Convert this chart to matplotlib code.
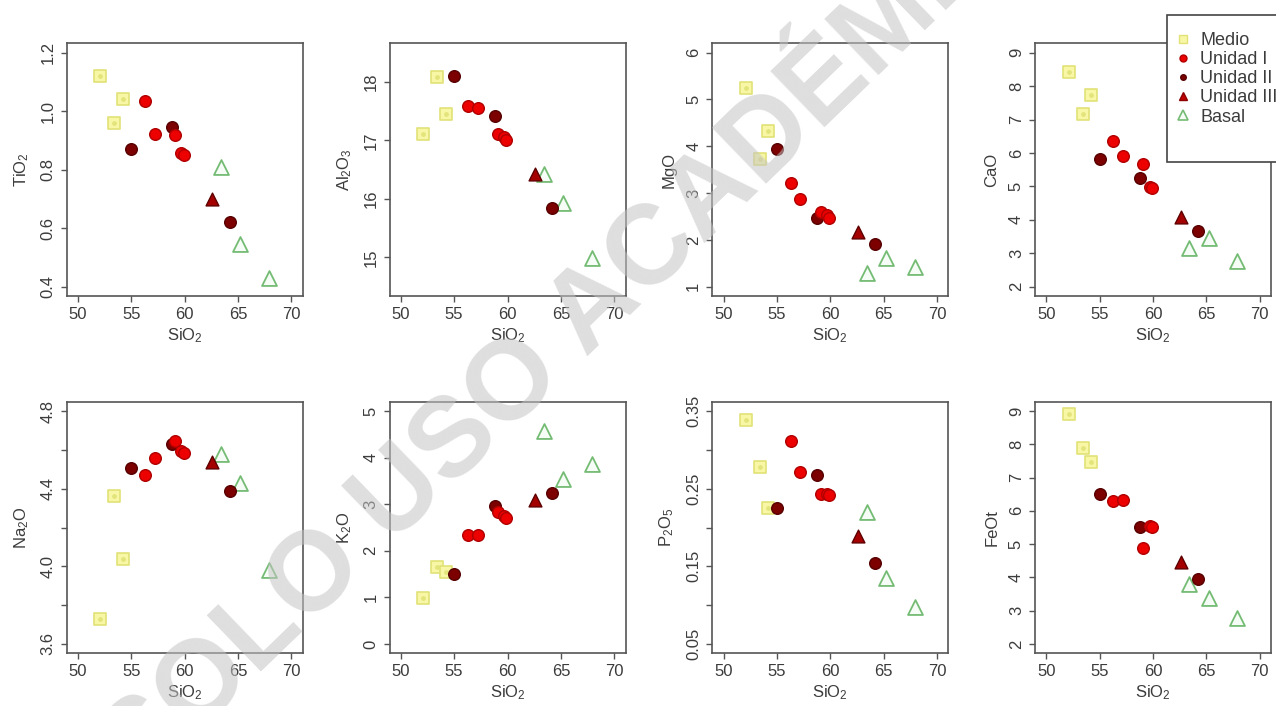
import matplotlib
matplotlib.use("Agg")
import matplotlib.pyplot as plt
from matplotlib.lines import Line2D
from matplotlib.patches import Rectangle

plt.rcParams['font.family'] = ['Liberation Sans', 'DejaVu Sans']
plt.rcParams['mathtext.default'] = 'regular'

# Muestras: SiO2 y grupo de cada una
grupo = ['Medio', 'Medio', 'Medio',
         'Unidad I', 'Unidad I', 'Unidad I', 'Unidad I', 'Unidad I',
         'Unidad II', 'Unidad II', 'Unidad II',
         'Unidad III',
         'Basal', 'Basal', 'Basal']
sio2 = [52.1, 53.4, 54.2,
        56.3, 57.2, 59.1, 59.7, 59.9,
        55.0, 58.8, 64.2,
        62.6,
        63.4, 65.2, 67.9]

# Óxidos (wt%), mismo orden que sio2
tio2 = [1.12, 0.96, 1.04, 1.035, 0.922, 0.919, 0.856, 0.850, 0.871, 0.947, 0.622, 0.70, 0.808, 0.545, 0.431]
al2o3 = [17.11, 18.09, 17.45, 17.59, 17.55, 17.11, 17.05, 17.01, 18.10, 17.41, 15.85, 16.42, 16.42, 15.93, 14.99]
mgo = [5.24, 3.72, 4.33, 3.21, 2.87, 2.60, 2.53, 2.47, 3.94, 2.46, 1.92, 2.16, 1.30, 1.62, 1.42]
cao = [8.42, 7.15, 7.72, 6.35, 5.90, 5.66, 4.97, 4.94, 5.82, 5.25, 3.67, 4.07, 3.17, 3.45, 2.77]
na2o = [3.73, 4.36, 4.04, 4.47, 4.56, 4.645, 4.595, 4.585, 4.505, 4.63, 4.39, 4.535, 4.58, 4.43, 3.98]
k2o = [0.98, 1.66, 1.55, 2.33, 2.33, 2.83, 2.74, 2.71, 1.50, 2.97, 3.23, 3.08, 4.57, 3.54, 3.86]
p2o5 = [0.3385, 0.278, 0.225, 0.312, 0.272, 0.243, 0.243, 0.242, 0.225, 0.267, 0.154, 0.189, 0.220, 0.135, 0.098]
feot = [8.90, 7.90, 7.46, 6.31, 6.33, 4.87, 5.55, 5.52, 6.51, 5.51, 3.95, 4.47, 3.79, 3.39, 2.77]

etiquetas_y = ['TiO$_2$', 'Al$_2$O$_3$', 'MgO', 'CaO', 'Na$_2$O', 'K$_2$O', 'P$_2$O$_5$', 'FeOt']
datos_y = [tio2, al2o3, mgo, cao, na2o, k2o, p2o5, feot]
rangos_y = [(0.4, 1.2), (14.5, 18.5), (1, 6), (2, 9), (3.6, 4.8), (0, 5), (0.05, 0.35), (2, 9)]
ticks_y = [
    ([0.4, 0.6, 0.8, 1.0, 1.2], ['0.4', '0.6', '0.8', '1.0', '1.2']),
    ([15, 16, 17, 18], ['15', '16', '17', '18']),
    ([1, 2, 3, 4, 5, 6], ['1', '2', '3', '4', '5', '6']),
    ([2, 3, 4, 5, 6, 7, 8, 9], ['2', '3', '4', '5', '6', '7', '8', '9']),
    ([3.6, 3.8, 4.0, 4.2, 4.4, 4.6, 4.8], ['3.6', '', '4.0', '', '4.4', '', '4.8']),
    ([0, 1, 2, 3, 4, 5], ['0', '1', '2', '3', '4', '5']),
    ([0.05, 0.10, 0.15, 0.20, 0.25, 0.30, 0.35], ['0.05', '', '0.15', '', '0.25', '', '0.35']),
    ([2, 3, 4, 5, 6, 7, 8, 9], ['2', '3', '4', '5', '6', '7', '8', '9']),
]
ticks_x = [50, 55, 60, 65, 70]
grupos = ['Medio', 'Unidad I', 'Unidad II', 'Unidad III', 'Basal']

# estilo de cada grupo (orden de dibujo)
estilos = {
    'Basal': dict(marker='^', s=115, facecolors='#f6fcf6', edgecolors='#74bb74', linewidths=1.3),
    'Medio': dict(marker='s', s=80, facecolors='#f7f7a6', edgecolors='#e2e278', linewidths=1.2),
    'Unidad II': dict(marker='o', s=70, facecolors='#7c0000', edgecolors='#560000', linewidths=1.0),
    'Unidad I': dict(marker='o', s=70, facecolors='#ec0000', edgecolors='#b00000', linewidths=1.0),
    'Unidad III': dict(marker='^', s=85, facecolors='#a40000', edgecolors='#5e0000', linewidths=1.0),
}

W, H = 1276, 706
fig = plt.figure(figsize=(W / 100, H / 100), dpi=100)

col_izq = [66.7, 389.5, 712.3, 1035.0]
filas = [(43.3, 296.0), (401.7, 653.3)]
ancho = 236.0
gris = '#3c3c3c'

for i in range(8):
    fila, col = divmod(i, 4)
    arriba, abajo = filas[fila]
    ax = fig.add_axes([col_izq[col] / W, 1 - abajo / H, ancho / W, (abajo - arriba) / H])
    vals = datos_y[i]
    for g, st in estilos.items():
        xs = [x for x, gg in zip(sio2, grupo) if gg == g]
        ys = [y for y, gg in zip(vals, grupo) if gg == g]
        ax.scatter(xs, ys, zorder=3, **st)
        if g == 'Medio':
            ax.scatter(xs, ys, marker='o', s=6, color='#e4e47c', zorder=3)

    ax.set_xlim(48.95, 71.05)
    lo, hi = rangos_y[i]
    pad = (hi - lo) * 0.04
    ax.set_ylim(lo - pad, hi + pad)
    ax.set_xticks(ticks_x)
    ax.set_xticklabels([str(t) for t in ticks_x])
    yt, yl = ticks_y[i]
    ax.set_yticks(yt)
    ax.set_yticklabels(yl)
    for lbl in ax.get_yticklabels():
        lbl.set_rotation(90)
        lbl.set_va('center')
    ax.tick_params(direction='out', length=4, width=1.0, color='#555555',
                   labelsize=12, labelcolor=gris, pad=4)
    for sp in ax.spines.values():
        sp.set_color('#555555')
        sp.set_linewidth(1.2)
    ax.set_xlabel('SiO$_2$', fontsize=12, color=gris, labelpad=3)
    ax.set_ylabel(etiquetas_y[i], fontsize=12, color=gris, labelpad=7)

# leyenda (marco aparte para dejar el margen superior e inferior)
fig.patches.append(Rectangle((1167 / W, 1 - 162 / H), 130 / W, 147 / H,
                             transform=fig.transFigure, facecolor='white',
                             edgecolor='#444444', linewidth=1.2, zorder=5))
manejadores = [
    Line2D([], [], linestyle='none', marker='s', markersize=6, markerfacecolor='#f7f7a6', markeredgecolor='#e2e278'),
    Line2D([], [], linestyle='none', marker='o', markersize=5, markerfacecolor='#ec0000', markeredgecolor='#b00000'),
    Line2D([], [], linestyle='none', marker='o', markersize=4, markerfacecolor='#7c0000', markeredgecolor='#560000'),
    Line2D([], [], linestyle='none', marker='^', markersize=6, markerfacecolor='#c00000', markeredgecolor='#8a0000'),
    Line2D([], [], linestyle='none', marker='^', markersize=7, markerfacecolor='#f6fcf6', markeredgecolor='#74bb74', markeredgewidth=1.2),
]
leg = fig.legend(manejadores, grupos,
                 loc='upper left', bbox_to_anchor=(1176 / W, 1 - 32 / H),
                 bbox_transform=fig.transFigure, borderaxespad=0, frameon=False,
                 fontsize=13, labelspacing=0.12, handlelength=0.8,
                 handletextpad=0.55, borderpad=0)
leg.set_zorder(6)
for t in leg.get_texts():
    t.set_color(gris)

# marca de agua
fig.text(612 / W, 1 - 333 / H, 'SOLO USO ACADÉMICO', rotation=44, ha='center', va='baseline',
         fontsize=81, fontweight='bold', color='#c4c4c4', alpha=0.55, zorder=10,
         rotation_mode='anchor')

fig.savefig('out.png', dpi=100)
